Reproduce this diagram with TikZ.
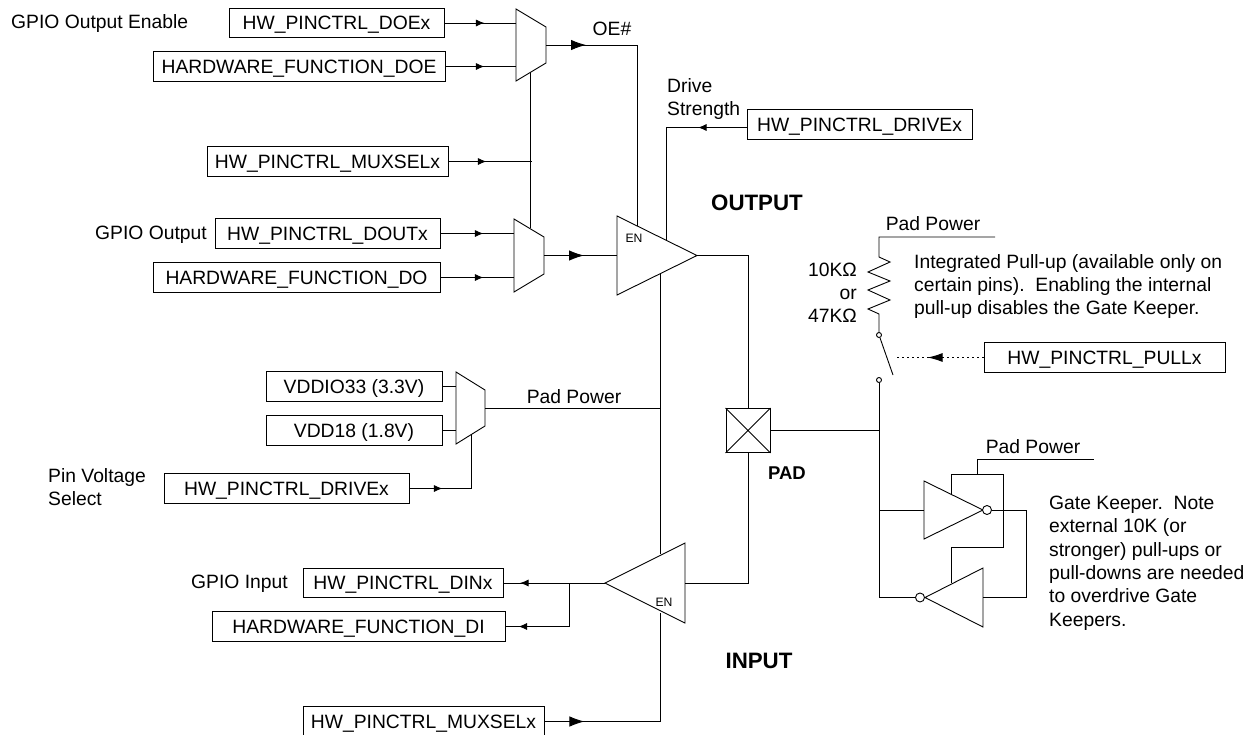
\documentclass[tikz,border=0pt]{standalone}
\usepackage{fontspec}
\setmainfont{Liberation Sans}
\usetikzlibrary{arrows.meta,calc,decorations.markings}
\tikzset{
  sigbox/.style={draw,line width=0.9pt,inner sep=0pt,minimum height=29.5pt,text height=13.8pt,text depth=0pt},
  lbl/.style={inner sep=0pt,text height=13.8pt,text depth=0pt},
  para/.style={inner sep=0pt,align=left,anchor=north west},
  pin/.style={inner sep=0pt,outer sep=0pt},
  wire/.style={line width=0.9pt},
  arr/.style={postaction={decorate,decoration={markings,mark=at position #1pt with {\arrow{Latex[length=8.5pt,width=7pt]}}}}},
  bigarr/.style={postaction={decorate,decoration={markings,mark=at position #1pt with {\arrow{Latex[length=15pt,width=10.5pt]}}}}},
  dotarr/.style={postaction={decorate,decoration={markings,mark=at position #1pt with {\arrow[solid]{Latex[length=15pt,width=9pt]}}}}},
  ring/.style={draw,circle,inner sep=0pt,line width=0.9pt,fill=white},
}
\newcommand{\muxshape}[1]{\draw[wire] (#1.north west) -- ($(#1.north east)+(0,18)$) -- ($(#1.south east)-(0,18)$) -- (#1.south west) -- cycle;}
\begin{document}
\begin{tikzpicture}[x=1pt,y=-1pt,font=\fontsize{19.3}{23.3}\selectfont]
\useasboundingbox (0,0) rectangle (1251,734);
\clip (0,0) rectangle (1251,734);
\fill[white] (0,0) rectangle (1251,734);
% signal boxes
\node[sigbox,minimum width=215pt] (doex) at (336.5,23) {HW\_PINCTRL\_DOEx};
\node[sigbox,minimum width=292pt] (hfdoe) at (299,66.5) {HARDWARE\_FUNCTION\_DOE};
\node[sigbox,minimum width=241pt] (muxsel) at (327.5,161.5) {HW\_PINCTRL\_MUXSELx};
\node[sigbox,minimum width=225pt] (doutx) at (327.5,233.5) {HW\_PINCTRL\_DOUTx};
\node[sigbox,minimum width=287pt] (hfdo) at (296.5,277.5) {HARDWARE\_FUNCTION\_DO};
\node[sigbox,minimum width=225pt] (drvtop) at (859.5,124.5) {HW\_PINCTRL\_DRIVEx};
\node[sigbox,minimum width=241pt] (pullx) at (1104.5,357.5) {HW\_PINCTRL\_PULLx};
\node[sigbox,minimum width=176pt] (vddio) at (354,386.5) {VDDIO33 (3.3V)};
\node[sigbox,minimum width=176pt] (vdd18) at (354,430.5) {VDD18 (1.8V)};
\node[sigbox,minimum width=245pt] (drvlow) at (286.5,488.5) {HW\_PINCTRL\_DRIVEx};
\node[sigbox,minimum width=200pt] (dinx) at (403,583) {HW\_PINCTRL\_DINx};
\node[sigbox,minimum width=293pt] (hfdi) at (358.5,626.5) {HARDWARE\_FUNCTION\_DI};
\node[sigbox,minimum width=241pt] (muxsel2) at (423.5,721.5) {HW\_PINCTRL\_MUXSELx};
% free labels
\node[lbl,anchor=west] (lgoe) at (11,22) {GPIO Output Enable};
\node[lbl,anchor=west] (lgo) at (95,233) {GPIO Output};
\node[lbl,anchor=west] (lgi) at (191,582) {GPIO Input};
\node[para] (lpvs) at (48,468) {Pin Voltage\\Select};
\node[lbl] (loe) at (612,29) {OE\#};
\node[para] (lds) at (667,78.5) {Drive\\Strength};
\node[lbl,font=\fontsize{22.3}{26}\selectfont\bfseries] (lout) at (757,204) {OUTPUT};
\node[lbl,font=\fontsize{22.3}{26}\selectfont\bfseries] (lin) at (759,662) {INPUT};
\node[lbl,font=\fontsize{18.5}{22}\selectfont\bfseries] (lpad) at (787,473) {PAD};
\node[lbl] (lpp1) at (574,397) {Pad Power};
\node[lbl] (lpp2) at (933,224) {Pad Power};
\node[lbl] (lpp3) at (1033,447) {Pad Power};
\node[inner sep=0pt,align=right,anchor=north east] (lres) at (857,262.5) {10KΩ\\or\\47KΩ};
\node[para] (lint) at (914,254) {Integrated Pull-up (available only on\\certain pins).\ \ Enabling the internal\\pull-up disables the Gate Keeper.};
\node[para] (lgk) at (1049,496) {Gate Keeper.\ \ Note\\external 10K (or\\stronger) pull-ups or\\pull-downs are needed\\to overdrive Gate\\Keepers.};
% muxes
\node[pin,minimum width=30pt,minimum height=72pt] (mux1) at (531,45) {};
\node[pin,minimum width=30pt,minimum height=73pt] (mux2) at (529,255.5) {};
\node[pin,minimum width=29pt,minimum height=72pt] (mux3) at (470.5,408) {};
\muxshape{mux1}\muxshape{mux2}\muxshape{mux3}
% buffers
\node[pin,minimum width=80pt,minimum height=79pt] (obuf) at (657,255.5) {};
\node[pin,minimum width=80pt,minimum height=80pt] (ibuf) at (645,583) {};
\draw[wire] (obuf.north west) -- (obuf.east) -- (obuf.south west) -- cycle;
\draw[wire] (ibuf.north east) -- (ibuf.west) -- (ibuf.south east) -- cycle;
\node[lbl,font=\fontsize{12.2}{14}\selectfont,text height=8.7pt] (oen) at (634,238) {EN};
\node[lbl,font=\fontsize{12.2}{14}\selectfont,text height=8.7pt] (ien) at (664,602) {EN};
% pad
\node[draw,line width=0.9pt,minimum size=44pt,inner sep=0pt] (pad) at (748,430.5) {};
\draw[wire] (pad.north west) -- (pad.south east) (pad.north east) -- (pad.south west);
% coordinates
\coordinate (mux1sel) at (530,72);
\coordinate (mux2sel) at (530,228);
\coordinate (muxtap) at (532,161.5);
\coordinate (mux3sel) at (471,435);
\coordinate (oeen) at (637,226);
\coordinate (drvpin) at (666,240);
\coordinate (opwr) at (660,274);
\coordinate (ipwr) at (660,554);
\coordinate (ienpin) at (660,613);
\coordinate (pptop) at (879,237);
\coordinate (ppend) at (995,237);
\coordinate (rtop) at (879,257);
\coordinate (rbot) at (879,314);
\coordinate (swblade) at (893,375);
\coordinate (padtap) at (879,430.5);
\node[ring,minimum size=5pt] (swa) at (879,335) {};
\node[ring,minimum size=5pt] (swb) at (879,380) {};
\coordinate (dotend) at (896,357.5);
\coordinate (drvjoin) at (747,127.5);
% inverters
\node[pin,minimum width=59pt,minimum height=58pt] (inv1) at (953.5,510) {};
\node[pin,minimum width=58pt,minimum height=59pt] (inv2) at (954,597.5) {};
\draw[wire] (inv1.north west) -- (inv1.east) -- (inv1.south west) -- cycle;
\draw[wire] (inv2.north east) -- (inv2.west) -- (inv2.south east) -- cycle;
\node[ring,minimum size=9pt] (bub1) at (987,510) {};
\node[ring,minimum size=9pt] (bub2) at (920,597.5) {};
% connectors
\draw[wire,arr=40] (doex.east) -- (mux1.west |- doex.east);
\draw[wire,arr=39] (hfdoe.east) -- (mux1.west |- hfdoe.east);
\draw[wire,arr=38] (muxsel.east) -- (muxtap);
\draw[wire,arr=43] (doutx.east) -- (mux2.west |- doutx.east);
\draw[wire,arr=43] (hfdo.east) -- (mux2.west |- hfdo.east);
\draw[wire] (mux1sel) -- (mux2sel);
\draw[wire,bigarr=40] (mux1.east) -- (637,45) -- (oeen);
\draw[wire,bigarr=40] (mux2.east) -- (obuf.west);
\draw[wire,arr=49] (drvjoin) -- (666,127.5) -- (drvpin);
\draw[wire] (obuf.east) -- (obuf.east -| pad.north) -- (pad.north);
\draw[wire] (pad.south) -- (pad.south |- ibuf.east) -- (ibuf.east);
\draw[wire] (opwr) -- (ipwr);
\draw[wire] (mux3.east) -- (660,408);
\draw[wire] (vddio.east) -- (mux3.west |- vddio.east);
\draw[wire] (vdd18.east) -- (mux3.west |- vdd18.east);
\draw[wire,arr=33] (drvlow.east) -- (471,488.5) -- (mux3sel);
\draw[wire,arr=85] (ibuf.west) -- (dinx.east);
\draw[wire,arr=94] (569,583) -- (569,626.5) -- (hfdi.east);
\draw[wire,bigarr=40] (muxsel2.east) -- (660,721.5) -- (ienpin);
\draw[wire] (pad.east) -- (padtap);
\draw[wire] (ppend) -- (pptop) -- (rtop) -- (890,262) -- (868,272) -- (890,281) -- (868,290) -- (890,300) -- (868,309) -- (rbot) -- (swa);
\draw[wire] (swa) -- (swblade);
\draw[wire] (swb) -- (879,597.5) -- (bub2);
\draw[wire] (879,510) -- (inv1.west);
\draw[wire] (bub1) -- (1026,510) -- (1026,597.5) -- (inv2.east);
\draw[wire] (951,495) -- (951,474) -- (1003,474) -- (1003,547) -- (951,547) -- (951,583);
\draw[wire] (977,474) -- (977,459) -- (1094,459);
\draw[line width=1.1pt,dash pattern=on 1.5pt off 3.5pt,dotarr=56] (pullx.west) -- (dotend);
\end{tikzpicture}
\end{document}
